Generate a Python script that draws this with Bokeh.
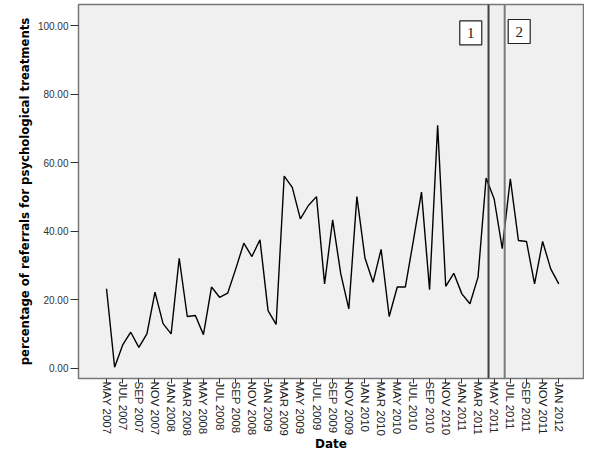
import math
from bokeh.plotting import figure
from bokeh.models import (ColumnDataSource, FixedTicker, PrintfTickFormatter, Span, Range1d)
from bokeh.core.properties import value
from bokeh.embed import file_html
from bokeh.resources import INLINE

# Monthly data, MAY 2007 .. JAN 2012 (index 0..56)
month_index = list(range(57))
percentages = [23.2, 0.3, 6.8, 10.5, 6.1, 10.0, 22.2, 13.0, 10.0, 32.1,
               15.1, 15.4, 9.8, 23.7, 20.7, 21.9, 29.0, 36.5, 32.6, 37.5,
               16.8, 12.8, 56.1, 52.8, 43.6, 47.5, 50.1, 24.6, 43.3, 27.6,
               17.3, 50.1, 32.2, 25.1, 34.7, 15.1, 23.7, 23.7, 37.3, 51.4,
               22.9, 70.9, 23.9, 27.7, 21.7, 18.8, 26.6, 55.5, 49.4, 34.9,
               55.3, 37.3, 37.0, 24.6, 37.0, 29.0, 24.6]

tick_positions = list(range(0, 57, 2))
tick_labels = ["MAY 2007", "JUL 2007", "SEP 2007", "NOV 2007", "JAN 2008",
               "MAR 2008", "MAY 2008", "JUL 2008", "SEP 2008", "NOV 2008",
               "JAN 2009", "MAR 2009", "MAY 2009", "JUL 2009", "SEP 2009",
               "NOV 2009", "JAN 2010", "MAR 2010", "MAY 2010", "JUL 2010",
               "SEP 2010", "NOV 2010", "JAN 2011", "MAR 2011", "MAY 2011",
               "JUL 2011", "SEP 2011", "NOV 2011", "JAN 2012"]

y_ticks = [0, 20, 40, 60, 80, 100]

# intervention markers
marker_positions = [47.3, 49.3]
marker_colors = ["#404040", "#7a7a7a"]
box_labels = ["1", "2"]
box_x = [45.1, 51.1]
box_y = [97.9, 98.3]

p = figure(width=584, height=453, output_backend="svg", toolbar_location=None,
           x_range=Range1d(-3.47, 59.06), y_range=Range1d(-3.01, 106.19),
           min_border_left=78, min_border_right=1, min_border_top=4,
           min_border_bottom=75)

p.background_fill_color = "#f0f0f0"
p.border_fill_color = "white"
p.outline_line_color = "#777777"
p.outline_line_width = 1.5
p.xgrid.visible = False
p.ygrid.visible = False

src = ColumnDataSource(data=dict(x=month_index, y=percentages))
p.line("x", "y", source=src, line_color="black", line_width=1.4)

for pos, col in zip(marker_positions, marker_colors):
    p.add_layout(Span(location=pos, dimension="height", line_color=col, line_width=2))

bsrc = ColumnDataSource(data=dict(x=box_x, y=box_y, t=box_labels))
p.rect("x", "y", width=22, height=24, width_units="screen", height_units="screen",
       source=bsrc, fill_color="white", line_color="#222222", line_width=1.2)
p.text("x", "y", text="t", source=bsrc, text_align="center", text_baseline="middle",
       text_font=value("Liberation Serif"), text_font_size="15px", text_color="#222222")

# axes
p.xaxis.ticker = FixedTicker(ticks=tick_positions)
p.xaxis.major_label_overrides = {pos: lab for pos, lab in zip(tick_positions, tick_labels)}
p.xaxis.major_label_orientation = -math.pi / 2
p.xaxis.major_label_text_font = "Liberation Sans"
p.xaxis.major_label_text_font_size = "11.5px"
p.xaxis.major_label_text_color = "#222222"
p.xaxis.major_label_standoff = -2
p.xaxis.major_tick_out = 5
p.xaxis.major_tick_in = 0
p.xaxis.minor_tick_out = 0
p.xaxis.minor_tick_in = 0
p.xaxis.axis_line_color = None
p.xaxis.major_tick_line_color = "#333333"
p.xaxis.axis_label = "Date"
p.xaxis.axis_label_text_font = "DejaVu Sans"
p.xaxis.axis_label_text_font_style = "bold"
p.xaxis.axis_label_text_font_size = "12px"
p.xaxis.axis_label_text_color = "black"
p.xaxis.axis_label_standoff = -2

p.yaxis.ticker = FixedTicker(ticks=y_ticks)
p.yaxis.formatter = PrintfTickFormatter(format="%.2f")
p.yaxis.major_label_text_font = "Liberation Sans"
p.yaxis.major_label_text_font_size = "10px"
p.yaxis.major_label_text_color = "#333333"
p.yaxis.major_label_standoff = 2
p.yaxis.major_tick_out = 8
p.yaxis.major_tick_in = 0
p.yaxis.minor_tick_out = 0
p.yaxis.minor_tick_in = 0
p.yaxis.axis_line_color = None
p.yaxis.major_tick_line_color = "#333333"
p.yaxis.axis_label = "percentage of referrals for psychological treatments"
p.yaxis.axis_label_text_font = "DejaVu Sans"
p.yaxis.axis_label_text_font_style = "bold"
p.yaxis.axis_label_text_font_size = "11.7px"
p.yaxis.axis_label_text_color = "black"
p.yaxis.axis_label_standoff = 3

open("out.html", "w").write(file_html(p, INLINE))
